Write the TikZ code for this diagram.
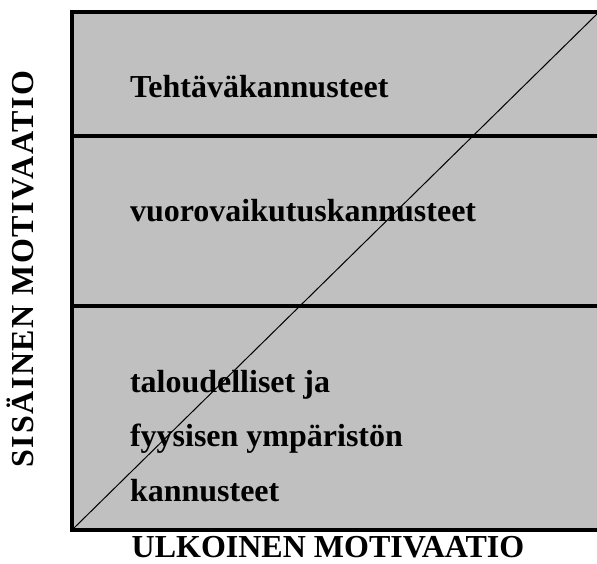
\documentclass[tikz,border=0pt]{standalone}
\usepackage{fontspec}
\setmainfont{Liberation Serif}
\definecolor{panelgray}{HTML}{C0C0C0}
\begin{document}
\begin{tikzpicture}[x=1pt,y=-1pt,
  label/.style={inner sep=0pt,outer sep=0pt,text depth=0pt,font=\fontsize{32}{38}\selectfont\bfseries},
  rule/.style={line width=4pt,line cap=rect}]
\useasboundingbox (0,0) rectangle (597,564);
% shaded panel
\fill[panelgray] (72,12) rectangle (597,530);
% borders and dividers
\draw[rule] (597,12) -- (72,12) -- (72,530) -- (597,530);
\draw[line width=4pt] (72,136) -- (597,136);
\draw[line width=4pt] (72,306) -- (597,306);
% diagonal
\coordinate (ll) at (74,528);
\coordinate (ur) at (597,14);
\draw[line width=1pt] (ll) -- (ur);
% band labels
\node[label,anchor=base west] (t1) at (130,98) {Tehtäväkannusteet};
\node[label,anchor=base west] (t2) at (130,222) {vuorovaikutuskannusteet};
\node[label,anchor=base west] (t3) at (130,392) {taloudelliset ja};
\node[label,anchor=base west] (t4) at (130,446) {fyysisen ympäristön};
\node[label,anchor=base west] (t5) at (130,501) {kannusteet};
% axis labels
\node[label,anchor=base] (ax) at (328,557) {ULKOINEN MOTIVAATIO};
\node[label,anchor=base,rotate=90] (ay) at (33.3,269)
  {\addfontfeature{LetterSpace=5}SISÄINEN MOTIVAATIO};
\end{tikzpicture}
\end{document}
